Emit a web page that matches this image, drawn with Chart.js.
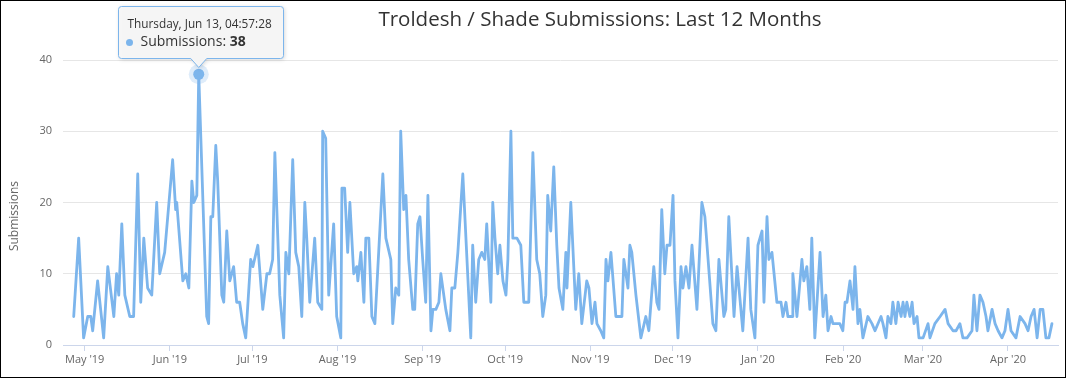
<!DOCTYPE html>
<html><head><meta charset="utf-8">
<script src="https://cdn.jsdelivr.net/npm/chart.js@4/dist/chart.umd.min.js"></script>
<style>
html,body{margin:0;padding:0;background:#fff;}
#wrap{position:relative;width:1066px;height:378px;overflow:hidden;}
#wrap canvas{position:absolute;left:0;top:0;}
#frame{position:absolute;left:0;top:0;width:1066px;height:378px;box-sizing:border-box;border:1px solid #000;pointer-events:none;}
</style></head><body>
<div id="wrap"><canvas id="c" width="1066" height="378"></canvas><div id="frame"></div></div>
<script>
// Days since 2019-05-01
const dayOffsets = [
-4.0,-2.2,-0.4,1.1,2.2,2.9,4.7,6.9,8.4,10.6,
11.6,12.4,13.5,14.6,16.4,17.8,19.3,20.4,21.5,22.9,
24.4,26.2,27.3,29.1,32.0,33.1,33.5,35.7,36.8,37.9,
39.0,39.7,40.8,41.5,44.4,45.1,45.9,46.6,47.7,48.4,
49.9,50.6,51.7,52.8,54.2,55.3,56.4,57.5,58.6,60.4,
61.2,63.0,64.8,66.3,67.3,68.4,69.2,71.0,72.4,73.2,
74.3,75.7,76.8,77.9,79.0,80.1,80.8,81.9,83.7,84.8,
86.3,86.6,87.7,88.8,90.6,91.7,93.2,93.6,94.6,95.7,
96.5,97.9,99.0,99.4,100.5,101.6,102.3,103.4,104.5,105.6,
108.5,109.6,111.4,112.1,113.2,114.3,115.0,116.1,116.9,117.9,
119.4,120.1,121.2,122.0,123.0,124.1,124.9,126.0,126.7,127.8,
128.9,129.6,131.4,132.9,133.6,134.7,135.8,137.6,140.5,141.2,
142.3,143.4,144.5,145.6,146.3,147.8,148.5,149.3,150.3,151.1,
152.2,153.3,154.0,155.1,155.8,157.3,158.7,159.8,161.6,163.1,
164.5,165.6,166.7,167.8,168.5,169.6,170.7,171.8,172.6,174.0,
175.1,175.5,176.9,178.7,179.8,180.9,182.7,183.5,184.6,185.7,
186.4,187.8,188.9,189.7,190.4,191.5,193.3,195.5,196.2,197.7,
198.4,199.1,200.6,202.4,204.2,205.3,207.1,208.2,209.0,210.0,
211.1,211.9,213.0,214.1,214.8,215.9,217.0,217.7,218.8,219.9,
221.0,222.8,224.6,225.7,228.6,229.7,230.8,232.6,233.3,234.4,
236.3,237.4,239.5,241.4,242.4,243.9,245.0,246.5,247.2,248.3,
249.0,250.1,251.9,253.4,254.1,255.2,255.9,257.4,257.7,259.2,
261.0,261.7,262.8,263.9,264.6,265.7,267.6,268.7,269.7,270.5,
271.6,272.3,274.8,275.9,276.7,277.4,278.5,279.6,280.3,281.4,
282.1,283.2,285.0,286.5,287.6,289.8,290.5,291.6,292.3,293.4,
294.1,295.2,296.0,297.1,297.8,298.5,299.2,300.3,301.1,301.8,
302.9,303.6,305.1,306.9,307.6,309.4,311.3,313.1,314.2,316.0,
317.1,318.5,319.6,321.1,322.9,323.6,324.7,325.8,326.9,328.0,
328.7,330.2,331.3,332.4,333.8,334.9,336.0,337.1,338.9,340.4,
342.2,343.3,344.4,345.5,346.6,347.7,348.7,349.8,350.9,352.0
];
const submissions = [
4,15,1,4,4,2,9,1,11,4,
10,7,17,7,4,4,24,6,15,8,
7,20,10,13,26,19,20,9,10,8,
23,20,21,38,4,3,18,18,28,23,
7,6,16,9,11,6,6,3,1,12,
11,14,5,10,10,12,27,7,1,13,
10,26,13,11,4,20,15,6,15,6,
5,30,29,7,17,4,1,22,22,13,
20,10,11,9,13,6,15,15,4,3,
24,15,12,3,8,7,30,19,21,12,
5,5,17,18,12,6,21,2,5,5,
6,10,5,2,8,8,13,24,1,14,
6,12,13,12,17,6,20,15,10,14,
9,7,12,30,15,15,14,6,6,27,
12,10,4,7,21,16,25,14,8,5,
13,8,20,5,10,3,9,8,3,6,
3,2,1,12,9,13,4,4,12,8,
14,13,7,1,4,2,11,6,5,19,
10,14,14,21,9,1,11,8,11,8,
14,5,20,18,3,2,12,4,5,18,
4,11,2,15,5,1,14,16,6,18,
12,13,6,6,4,6,4,4,10,4,
12,9,11,5,15,1,13,4,7,2,
4,3,3,2,6,6,9,5,11,3,
5,1,4,3,2,4,3,1,4,3,
6,3,6,4,6,4,6,4,6,3,
4,1,1,3,1,3,4,5,3,2,
2,3,1,1,2,7,2,7,6,4,
2,5,3,2,1,2,5,2,1,4,
3,2,4,5,1,5,5,1,1,3
];
const tickDates = ["2019-05-01","2019-06-01","2019-07-01","2019-08-01","2019-09-01","2019-10-01","2019-11-01","2019-12-01","2020-01-01","2020-02-01","2020-03-01","2020-04-01"];
const tickLabels = ["May '19","Jun '19","Jul '19","Aug '19","Sep '19","Oct '19","Nov '19","Dec '19","Jan '20","Feb '20","Mar '20","Apr '20"];
const yTicks = [0,10,20,30,40];
const chartTitle = "Troldesh / Shade Submissions: Last 12 Months";
const seriesName = "Submissions";
const tooltipTitle = "Thursday, Jun 13, 04:57:28";

const baseUTC = Date.UTC(2019,4,1);
const tickOffsets = tickDates.map(s => { const p = s.split('-').map(Number); return (Date.UTC(p[0],p[1]-1,p[2]) - baseUTC)/86400000; });
const points = dayOffsets.map((d,i) => ({x:d, y:submissions[i]}));
let peakIdx = 0; submissions.forEach((v,i)=>{ if (v > submissions[peakIdx]) peakIdx = i; });

const FONT = '"Open Sans", "Noto Sans", sans-serif';
const LINE = '#7cb5ec';

const overlay = {
  id: 'overlay',
  afterDraw(chart) {
    const ctx = chart.ctx;
    // title
    ctx.save();
    ctx.font = '20.5px ' + FONT;
    ctx.fillStyle = '#333333';
    ctx.textAlign = 'center';
    ctx.textBaseline = 'middle';
    ctx.fillText(chartTitle, 600, 20);
    ctx.restore();
    // y axis title
    ctx.save();
    ctx.translate(15, 216);
    ctx.rotate(-Math.PI/2);
    ctx.font = '12px ' + FONT;
    ctx.fillStyle = '#666666';
    ctx.textAlign = 'center';
    ctx.textBaseline = 'middle';
    ctx.fillText(seriesName, 0, 0);
    ctx.restore();
    // hover marker + tooltip
    const pt = chart.getDatasetMeta(0).data[peakIdx];
    const px = pt.x, py = pt.y;
    ctx.save();
    ctx.beginPath(); ctx.arc(px, py, 10, 0, Math.PI*2);
    ctx.fillStyle = 'rgba(124,181,236,0.25)'; ctx.fill();
    ctx.beginPath(); ctx.arc(px, py, 5.5, 0, Math.PI*2);
    ctx.fillStyle = LINE; ctx.fill();
    ctx.restore();

    const bw = 165, bh = 52;
    const bx = Math.round(px - 81) + 0.5, by = Math.round(py - 68) + 0.5;
    const r = 3;
    ctx.save();
    ctx.beginPath();
    ctx.moveTo(bx + r, by);
    ctx.lineTo(bx + bw - r, by);
    ctx.arcTo(bx + bw, by, bx + bw, by + r, r);
    ctx.lineTo(bx + bw, by + bh - r);
    ctx.arcTo(bx + bw, by + bh, bx + bw - r, by + bh, r);
    ctx.lineTo(px + 8, by + bh);
    ctx.lineTo(px, by + bh + 9);
    ctx.lineTo(px - 8, by + bh);
    ctx.lineTo(bx + r, by + bh);
    ctx.arcTo(bx, by + bh, bx, by + bh - r, r);
    ctx.lineTo(bx, by + r);
    ctx.arcTo(bx, by, bx + r, by, r);
    ctx.closePath();
    ctx.shadowColor = 'rgba(0,0,0,0.18)';
    ctx.shadowOffsetX = 1; ctx.shadowOffsetY = 1; ctx.shadowBlur = 4;
    ctx.fillStyle = 'rgba(247,247,247,0.95)';
    ctx.fill();
    ctx.shadowColor = 'transparent';
    ctx.strokeStyle = LINE; ctx.lineWidth = 1; ctx.stroke();

    ctx.fillStyle = '#333333';
    ctx.textBaseline = 'middle';
    ctx.textAlign = 'left';
    ctx.font = '11.8px ' + FONT;
    ctx.fillText(tooltipTitle, bx + 9, by + 18);
    ctx.beginPath(); ctx.arc(bx + 11, by + 36, 3.5, 0, Math.PI*2);
    ctx.fillStyle = LINE; ctx.fill();
    ctx.fillStyle = '#333333';
    ctx.font = '14px ' + FONT;
    const lbl = seriesName + ': ';
    ctx.fillText(lbl, bx + 22, by + 36);
    const w = ctx.measureText(lbl).width;
    ctx.font = 'bold 14px ' + FONT;
    ctx.fillText(String(submissions[peakIdx]), bx + 22 + w, by + 36);
    ctx.restore();
  }
};

new Chart(document.getElementById('c'), {
  type: 'line',
  data: { datasets: [{
    label: seriesName,
    data: points,
    borderColor: LINE,
    backgroundColor: LINE,
    borderWidth: 2.8,
    borderJoinStyle: 'round',
    borderCapStyle: 'round',
    pointRadius: 0,
    tension: 0,
    fill: false
  }]},
  options: {
    responsive: false,
    animation: false,
    devicePixelRatio: 1,
    layout: { padding: { left: 0, right: 8, top: 60, bottom: 0 } },
    plugins: { legend: { display: false }, tooltip: { enabled: false }, title: { display: false } },
    scales: {
      x: {
        type: 'linear',
        min: -7.9, max: 354.2,
        afterBuildTicks: (s) => { s.ticks = tickOffsets.map(v => ({ value: v })); },
        afterFit: (s) => { s.height = 33; },
        grid: { drawOnChartArea: false, drawTicks: true, tickLength: 6, color: '#ccd6eb' },
        border: { display: true, color: '#ccd6eb', width: 1 },
        ticks: {
          autoSkip: false, maxRotation: 0, minRotation: 0, padding: 2,
          color: '#666666', font: { family: FONT, size: 11 },
          callback: (v, i) => tickLabels[i]
        }
      },
      y: {
        min: 0, max: 40,
        afterBuildTicks: (s) => { s.ticks = yTicks.map(v => ({ value: v })); },
        afterFit: (s) => { s.width = 63; },
        grid: { color: '#e6e6e6', drawTicks: false, lineWidth: 1 },
        border: { display: false },
        ticks: { padding: 11, color: '#666666', font: { family: FONT, size: 11 } },
        title: { display: false }
      }
    }
  },
  plugins: [overlay]
});
</script>
</body></html>
